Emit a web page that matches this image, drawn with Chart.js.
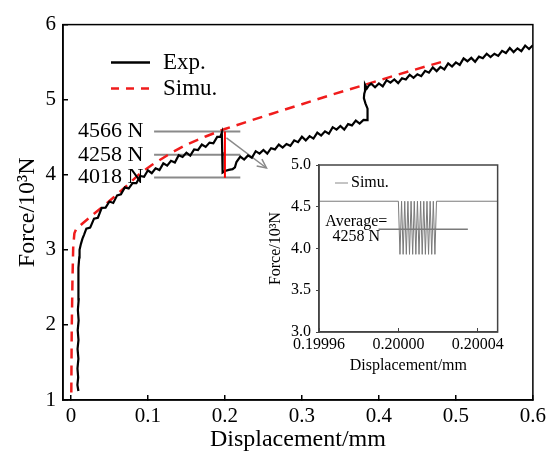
<!DOCTYPE html>
<html><head><meta charset="utf-8">
<script src="https://cdn.jsdelivr.net/npm/chart.js@4.4.1/dist/chart.umd.min.js"></script>
<style>
html,body{margin:0;padding:0;background:#fff;}
#wrap{position:relative;width:555px;height:461px;overflow:hidden;}
#main{position:absolute;left:0;top:0;}
#inset{position:absolute;left:262px;top:150px;}
</style></head><body>
<div id="wrap"><canvas id="main" width="555" height="461"></canvas><canvas id="inset" width="250" height="230"></canvas></div>
<script>
// ---------- data ----------
const xTicks = [0, 0.1, 0.2, 0.3, 0.4, 0.5, 0.6];
const xTickLabels = ['0', '0.1', '0.2', '0.3', '0.4', '0.5', '0.6'];
const yTicks = [1, 2, 3, 4, 5, 6];

const expX = [
  0.0097,0.0084,0.0094,0.0085,0.0097,0.0086,0.0098,0.0088,0.01,0.009,0.0101,0.0092,0.0104,0.0096,0.0108,0.0112,0.013,0.015,0.017,
  0.02,0.025,0.03,0.035,0.04,0.045,0.05,0.055,0.06,0.065,0.07,0.075,0.08,0.085,0.09,0.095,0.1,0.105,0.11,0.115,0.12,0.125,0.13,0.135,0.14,0.145,0.15,0.155,0.16,0.165,0.17,0.175,0.18,0.185,0.19,0.194,0.196,
  0.1965,0.197,0.1985,0.2,0.205,0.21,0.213,0.215,
  0.22,0.225,0.23,0.235,0.24,0.245,0.25,0.255,0.26,0.265,0.27,0.275,0.28,0.285,0.29,0.295,0.3,0.305,0.31,0.315,0.32,0.325,0.33,0.335,0.34,0.345,0.35,0.355,0.36,0.365,0.37,0.375,0.38,0.385,
  0.3855,0.385,0.3825,0.3805,0.381,0.3825,0.382,0.3845,0.387,
  0.39,0.395,0.4,0.405,0.41,0.415,0.42,0.425,0.43,0.435,0.44,0.445,0.45,0.455,0.46,0.465,0.47,0.475,0.48,0.485,0.49,0.495,0.5,0.505,0.51,0.515,0.52,0.525,0.53,0.535,0.54,0.545,0.55,0.555,0.56,0.565,0.57,0.575,0.58,0.585,0.59,0.595,0.6
];
const expY = [
  1.12,1.2,1.3,1.42,1.55,1.68,1.8,1.93,2.06,2.2,2.34,2.48,2.62,2.76,2.9,3.0,3.08,3.15,3.2,
  3.282,3.296,3.416,3.428,3.56,3.562,3.644,3.625,3.726,3.739,3.832,3.816,3.888,3.888,3.984,3.974,4.06,4.021,4.086,4.063,4.152,4.121,4.186,4.163,4.26,4.237,4.294,4.255,4.336,4.329,4.402,4.371,4.428,4.418,4.504,4.504,4.56,
  4.3,4.03,4.04,4.05,4.065,4.075,4.1,4.17,
  4.242,4.202,4.258,4.226,4.314,4.282,4.33,4.282,4.354,4.338,4.402,4.362,4.41,4.386,4.458,4.434,4.506,4.458,4.514,4.482,4.562,4.522,4.578,4.546,4.634,4.602,4.65,4.602,4.674,4.658,4.722,4.682,4.73,4.728,
  4.8,4.88,4.95,5.02,5.08,5.13,5.2,5.15,5.19,
  5.212,5.166,5.216,5.178,5.26,5.227,5.269,5.22,5.286,5.269,5.332,5.291,5.338,5.313,5.384,5.359,5.43,5.381,5.436,5.403,5.482,5.441,5.496,5.463,5.55,5.512,5.557,5.505,5.573,5.553,5.612,5.568,5.612,5.583,5.65,5.621,5.688,5.634,5.684,5.646,5.721,5.675,5.726
];

const simuX = [0.0005,0.001,0.002,0.003,0.0045,0.007,0.015,0.03,0.05,0.07,0.09,0.105,0.13,0.15,0.175,0.2,0.23,0.26,0.3,0.34,0.376,0.42,0.46,0.484];
const simuY = [1.1,1.9,2.6,3.05,3.22,3.28,3.35,3.48,3.65,3.83,4.02,4.13,4.29,4.4,4.51,4.61,4.71,4.81,4.94,5.07,5.18,5.32,5.44,5.51];

const levelLabels = ['4566 N', '4258 N', '4018 N'];
const levelY = [4.575, 4.265, 3.965];
const levelX = [0.108, 0.22];
const levelLabelX = 0.094;
const dropX = [0.2, 0.2];
const dropY = [4.575, 3.96];
const arrowX = [0.202, 0.254];
const arrowY = [4.49, 4.09];

// inset
const insetXTicks = [0.19996, 0.2, 0.20004];
const insetYTicks = [3.0, 3.5, 4.0, 4.5, 5.0];
const insetX = [0.19996,0.2,0.2000008,0.2000016,0.2000024,0.2000032,0.200004,0.2000048,0.2000056,0.2000064,0.2000072,0.200008,0.2000088,0.2000096,0.2000104,0.2000112,0.200012,0.2000128,0.2000136,0.2000144,0.2000152,0.200016,0.2000168,0.2000176,0.2000184,0.2000192,0.20002,0.20005];
const insetY = [4.566,4.566,3.93,4.566,3.93,4.566,3.93,4.566,3.93,4.566,3.93,4.566,3.93,4.566,3.93,4.566,3.93,4.566,3.93,4.566,3.93,4.566,3.93,4.566,3.93,4.566,4.566,4.566];
const avgX = [0.19999, 0.200035];
const avgY = [4.23, 4.23];
const avgTextX = 0.1999788;
const avgTextY = [4.32, 4.14];
const avgText = ['Average=', '4258 N'];

// ---------- styling ----------
const SERIF = '"Liberation Serif", "Times New Roman", Times, serif';
const GRAY = '#8a8a8a';
const RED = '#f01c1c';
Chart.defaults.font.family = SERIF;
Chart.defaults.color = '#000';
const F = size => ({family: SERIF, size: size, weight: 'normal'});

const pts = (xs, ys) => xs.map((v, i) => ({x: v, y: ys[i]}));
const lineDs = (data, color, width, extra) => Object.assign({
  data, borderColor: color, borderWidth: width, pointRadius: 0, pointHoverRadius: 0,
  fill: false, tension: 0, backgroundColor: color
}, extra || {});

const mainDeco = {
  id: 'mainDeco',
  afterDatasetsDraw(chart) {
    const {ctx, chartArea: a, scales: {x, y}} = chart;
    ctx.save();
    ctx.strokeStyle = '#000'; ctx.lineWidth = 1.5;
    ctx.strokeRect(a.left, a.top, a.right - a.left, a.bottom - a.top);
    // arrow head
    const x1 = x.getPixelForValue(arrowX[0]), y1 = y.getPixelForValue(arrowY[0]);
    const x2 = x.getPixelForValue(arrowX[1]), y2 = y.getPixelForValue(arrowY[1]);
    const ang = Math.atan2(y2 - y1, x2 - x1);
    ctx.strokeStyle = GRAY; ctx.lineWidth = 1.5;
    ctx.beginPath();
    ctx.moveTo(x2 - 10 * Math.cos(ang - 0.45), y2 - 10 * Math.sin(ang - 0.45));
    ctx.lineTo(x2, y2);
    ctx.lineTo(x2 - 10 * Math.cos(ang + 0.45), y2 - 10 * Math.sin(ang + 0.45));
    ctx.stroke();
    // level labels
    ctx.fillStyle = '#000';
    ctx.font = '22px ' + SERIF;
    ctx.textAlign = 'right'; ctx.textBaseline = 'middle';
    levelLabels.forEach((t, i) => ctx.fillText(t, x.getPixelForValue(levelLabelX), y.getPixelForValue(levelY[i])));
    // legend
    const lx0 = a.left + 48, lx1 = a.left + 87, tx = a.left + 100;
    const ly = [a.top + 38, a.top + 64];
    ctx.lineWidth = 2.5;
    ctx.strokeStyle = '#000'; ctx.setLineDash([]);
    ctx.beginPath(); ctx.moveTo(lx0, ly[0]); ctx.lineTo(lx1, ly[0]); ctx.stroke();
    ctx.strokeStyle = RED; ctx.setLineDash([8, 7]);
    ctx.beginPath(); ctx.moveTo(lx0, ly[1]); ctx.lineTo(lx1, ly[1]); ctx.stroke();
    ctx.setLineDash([]);
    ctx.font = '23px ' + SERIF; ctx.textAlign = 'left';
    ctx.fillText('Exp.', tx, ly[0]);
    ctx.fillText('Simu.', tx, ly[1]);
    ctx.restore();
  }
};

new Chart(document.getElementById('main'), {
  type: 'line',
  data: {
    datasets: [
      lineDs(pts(dropX, dropY), '#ff0000', 2, {order: 0}),
      lineDs(pts(expX, expY), '#000', 2.2, {order: 1}),
      lineDs(pts(simuX, simuY), RED, 2.5, {order: 2, borderDash: [10, 7]}),
      lineDs(pts(levelX, [levelY[0], levelY[0]]), GRAY, 2, {order: 3}),
      lineDs(pts(levelX, [levelY[1], levelY[1]]), GRAY, 2, {order: 3}),
      lineDs(pts(levelX, [levelY[2], levelY[2]]), GRAY, 2, {order: 3}),
      lineDs(pts(arrowX, arrowY), GRAY, 1.5, {order: 3})
    ]
  },
  options: {
    responsive: false, animation: false, events: [],
    layout: {padding: {left: 0, right: 18, top: 15, bottom: 0}},
    plugins: {legend: {display: false}, tooltip: {enabled: false}},
    scales: {
      x: {
        type: 'linear', min: -0.0103, max: 0.6,
        afterBuildTicks: s => { s.ticks = xTicks.map(v => ({value: v})); },
        afterFit: s => { s.height = 61; },
        ticks: {font: F(21), color: '#000', padding: 9, autoSkip: false, maxRotation: 0, callback: (v, i) => xTickLabels[i]},
        grid: {drawOnChartArea: false, tickLength: -5, color: '#000', lineWidth: 1.5},
        border: {color: '#000', width: 1.5},
        title: {display: true, text: 'Displacement/mm', color: '#000', font: F(24), padding: {top: 0, bottom: 7}}
      },
      y: {
        type: 'linear', min: 1, max: 6,
        afterBuildTicks: s => { s.ticks = yTicks.map(v => ({value: v})); },
        afterFit: s => { s.width = 63; },
        ticks: {font: F(21), color: '#000', padding: 12, autoSkip: false, callback: v => String(v)},
        grid: {drawOnChartArea: false, tickLength: -5, color: '#000', lineWidth: 1.5},
        border: {color: '#000', width: 1.5},
        title: {display: true, text: 'Force/10³N', color: '#000', font: F(24), padding: {top: 13, bottom: 0}}
      }
    }
  },
  plugins: [mainDeco]
});

// ---------- inset ----------
const insetDeco = {
  id: 'insetDeco',
  afterDatasetsDraw(chart) {
    const {ctx, chartArea: a, scales: {x, y}} = chart;
    ctx.save();
    ctx.strokeStyle = '#444'; ctx.lineWidth = 1.5;
    ctx.strokeRect(a.left, a.top, a.right - a.left, a.bottom - a.top);
    ctx.fillStyle = '#000';
    ctx.font = '16px ' + SERIF;
    ctx.textAlign = 'center'; ctx.textBaseline = 'middle';
    avgText.forEach((t, i) => ctx.fillText(t, x.getPixelForValue(avgTextX), y.getPixelForValue(avgTextY[i])));
    // legend
    ctx.strokeStyle = GRAY; ctx.lineWidth = 1;
    ctx.beginPath(); ctx.moveTo(a.left + 16, a.top + 18); ctx.lineTo(a.left + 29, a.top + 18); ctx.stroke();
    ctx.textAlign = 'left';
    ctx.fillText('Simu.', a.left + 32, a.top + 18);
    ctx.restore();
  }
};

new Chart(document.getElementById('inset'), {
  type: 'line',
  data: {
    datasets: [
      lineDs(pts(insetX, insetY), '#7a7a7a', 1, {order: 1}),
      lineDs(pts(avgX, avgY), '#7a7a7a', 1.5, {order: 0})
    ]
  },
  options: {
    responsive: false, animation: false, events: [],
    layout: {padding: {left: 0, right: 11, top: 15, bottom: 0}},
    plugins: {legend: {display: false}, tooltip: {enabled: false}},
    scales: {
      x: {
        type: 'linear', min: 0.19996, max: 0.20005,
        afterBuildTicks: s => { s.ticks = insetXTicks.map(v => ({value: v})); },
        afterFit: s => { s.height = 48; },
        ticks: {font: F(16), color: '#000', padding: 7, autoSkip: false, maxRotation: 0, callback: v => v.toFixed(5)},
        grid: {drawOnChartArea: false, tickLength: -4, color: '#444', lineWidth: 1},
        border: {color: '#444', width: 1.5},
        title: {display: true, text: 'Displacement/mm', color: '#000', font: F(16), padding: {top: 0, bottom: 5}}
      },
      y: {
        type: 'linear', min: 3, max: 5,
        afterBuildTicks: s => { s.ticks = insetYTicks.map(v => ({value: v})); },
        afterFit: s => { s.width = 57; },
        ticks: {font: F(16), color: '#000', padding: 5, autoSkip: false, callback: v => v.toFixed(1)},
        grid: {drawOnChartArea: false, tickLength: 3, color: '#444', lineWidth: 1},
        border: {color: '#444', width: 1.5},
        title: {display: true, text: 'Force/10³N', color: '#000', font: F(16), padding: {top: 4, bottom: 0}}
      }
    }
  },
  plugins: [insetDeco]
});
</script>
</body></html>
